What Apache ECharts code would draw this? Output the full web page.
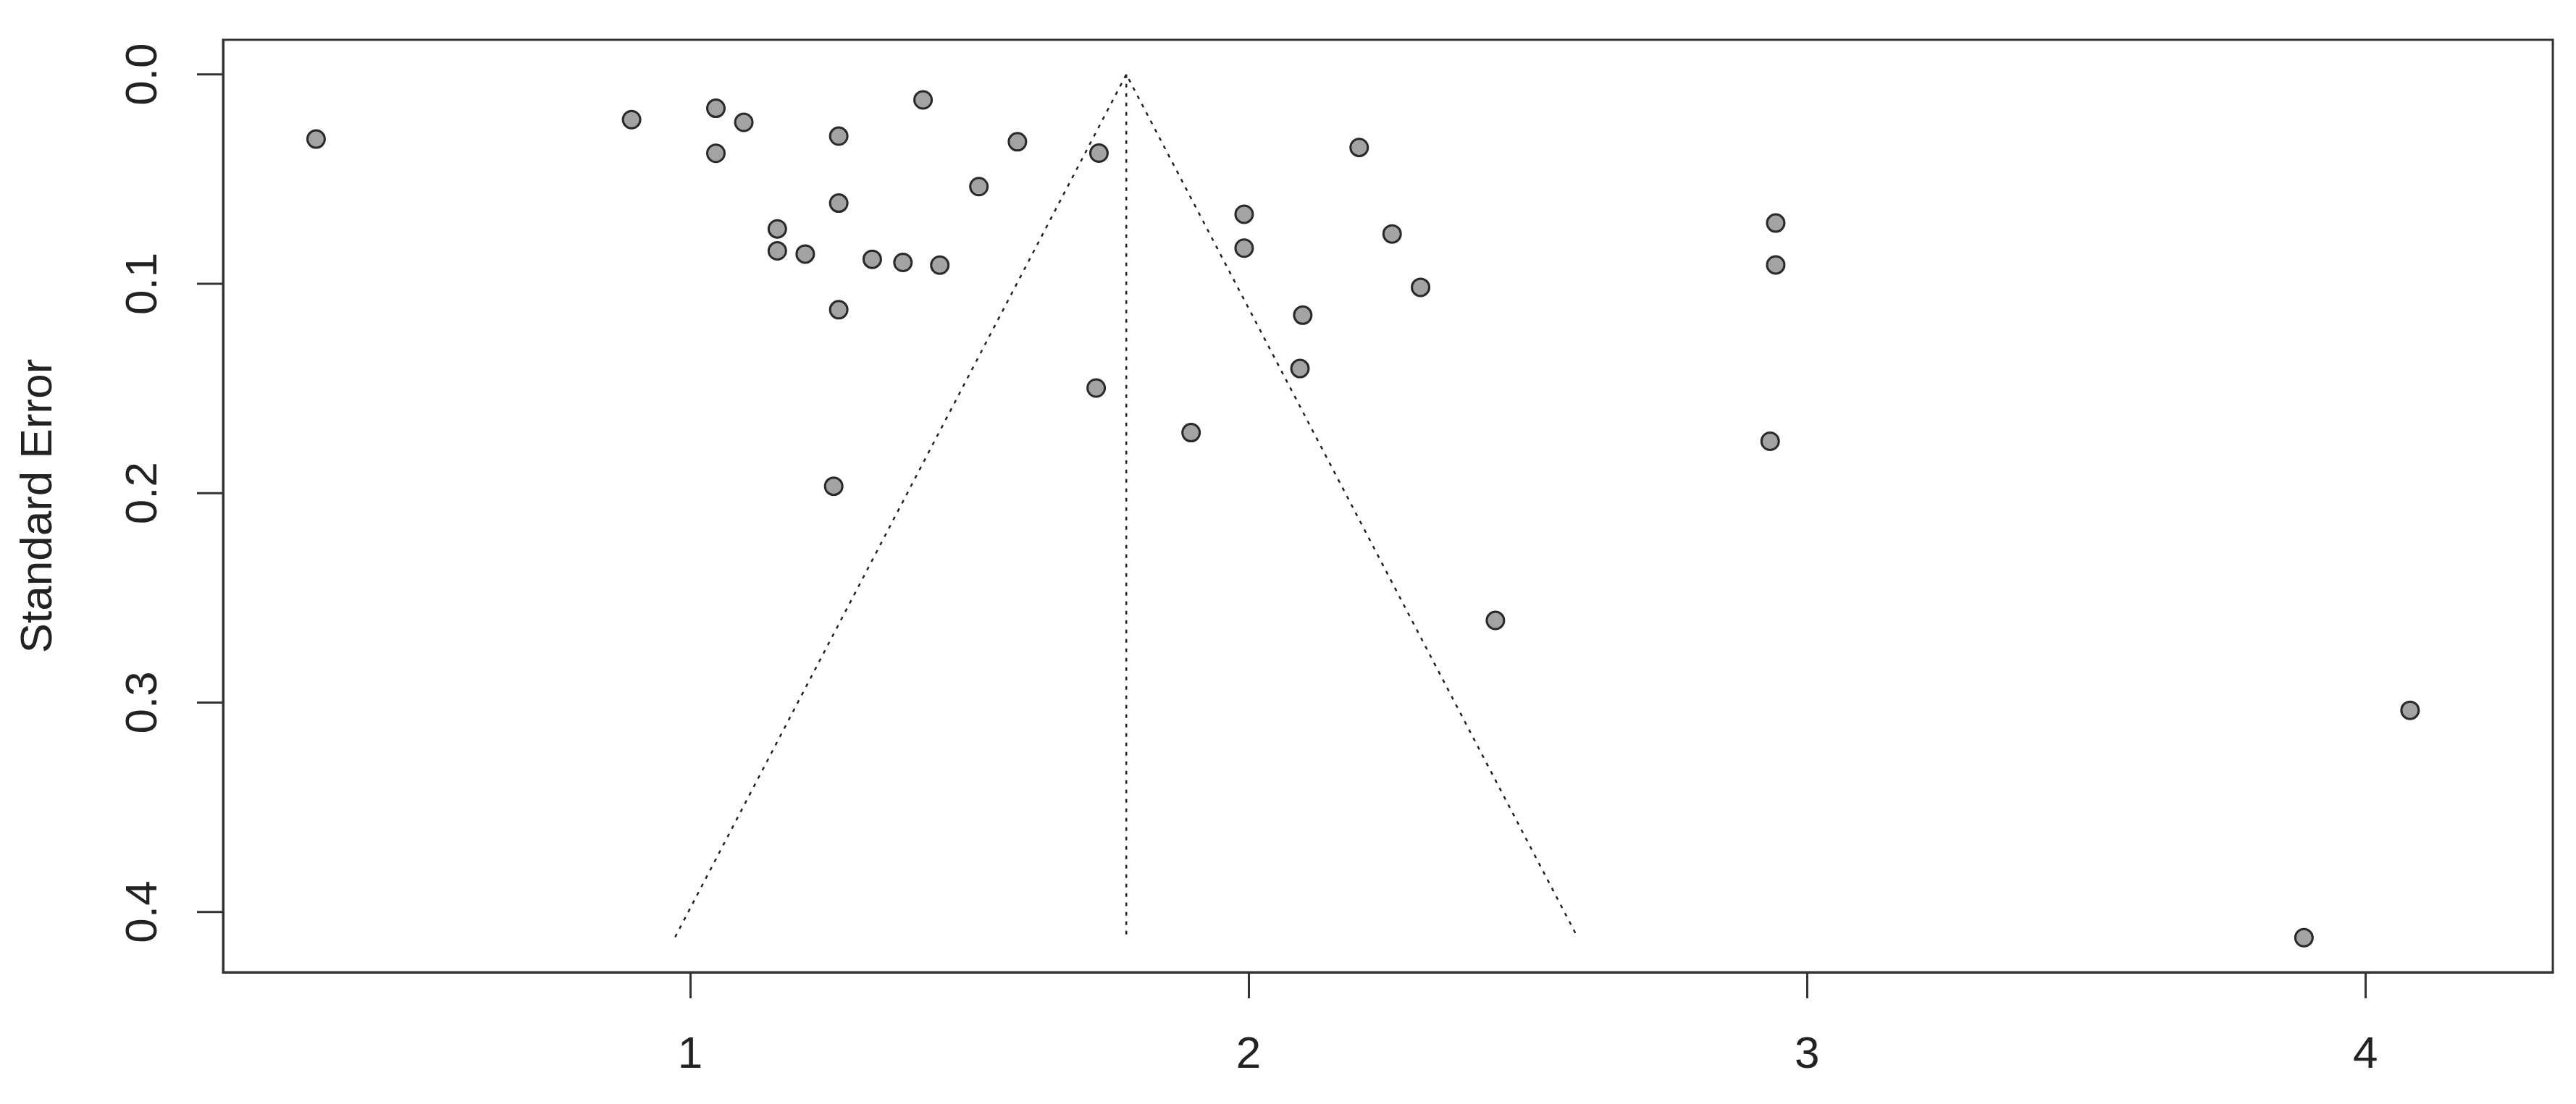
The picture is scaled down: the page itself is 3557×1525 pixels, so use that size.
<!DOCTYPE html>
<html>
<head>
<meta charset="utf-8">
<script src="https://cdn.jsdelivr.net/npm/echarts@6/dist/echarts.min.js"></script>
<style>
html,body{margin:0;padding:0;background:#fff;}
#chart{width:3557px;height:1525px;}
</style>
</head>
<body>
<div id="chart"></div>
<script>
// Study effect sizes (x) and standard errors (y)
const effectSizes = [0.330, 0.895, 1.046, 1.096, 1.046, 1.266, 1.417, 1.586, 1.732, 1.517,
  1.266, 1.156, 1.156, 1.206, 1.326, 1.381, 1.447, 1.266, 1.727, 1.257,
  1.897, 1.992, 1.992, 2.198, 2.257, 2.308, 2.097, 2.092, 2.442, 2.944,
  2.944, 2.934, 4.080, 3.890];
const standardErrors = [0.0309, 0.0216, 0.0162, 0.0229, 0.0377, 0.0295, 0.0122, 0.0322, 0.0376, 0.0536,
  0.0615, 0.0738, 0.0843, 0.0858, 0.0883, 0.0898, 0.0911, 0.1124, 0.1498, 0.1967,
  0.1711, 0.0668, 0.0830, 0.0349, 0.0762, 0.1017, 0.1150, 0.1405, 0.2608, 0.0710,
  0.0910, 0.1752, 0.3037, 0.4123];

// Funnel outline (pseudo confidence region) and centre line
const funnelX = [0.973, 1.781, 2.589];
const funnelY = [0.412, 0.0, 0.412];
const centreX = [1.781, 1.781];
const centreY = [0.0, 0.412];

// Axis ranges and ticks
const xRange = [0.1634, 4.3357];
const yRange = [-0.0165, 0.4288];
const xTicks = [1, 2, 3, 4];
const yTicks = [0, 0.1, 0.2, 0.3, 0.4];
const yAxisTitle = 'Standard Error';

const FONT = '"Liberation Sans", Arial, Helvetica, sans-serif';
const INK = '#222';
const TICK_LEN = 36;

const chart = echarts.init(document.getElementById('chart'));

const pts = effectSizes.map((x, i) => [x, standardErrors[i]]);
const funnel = funnelX.map((x, i) => [x, funnelY[i]]);
const centre = centreX.map((x, i) => [x, centreY[i]]);
const yTickData = yTicks.map(v => [xRange[0], v]);

chart.setOption({
  animation: false,
  backgroundColor: '#fff',
  grid: {
    left: 308, top: 55, right: 32, bottom: 182,
    show: true, borderColor: '#333', borderWidth: 3
  },
  xAxis: {
    type: 'value', position: 'bottom',
    min: xRange[0], max: xRange[1],
    splitLine: {show: false},
    axisLine: {show: true, onZero: false, lineStyle: {color: '#333', width: 3}},
    axisTick: {show: true, inside: false, length: TICK_LEN, customValues: xTicks, lineStyle: {color: '#333', width: 3}},
    axisLabel: {show: true, customValues: xTicks, margin: 84, fontSize: 62, fontFamily: FONT, color: INK}
  },
  yAxis: {
    type: 'value', position: 'left', inverse: true,
    min: yRange[0], max: yRange[1],
    splitLine: {show: false},
    axisLine: {show: true, onZero: false, lineStyle: {color: '#333', width: 3}},
    axisTick: {show: false},
    axisLabel: {
      show: true, customValues: yTicks, margin: 78, rotate: 90,
      fontSize: 62, fontFamily: FONT, color: INK,
      formatter: v => Number(v).toFixed(1)
    },
    name: yAxisTitle, nameLocation: 'middle', nameRotate: 90, nameGap: 223,
    nameTextStyle: {fontSize: 62, fontFamily: FONT, color: INK}
  },
  series: [
    {
      // y-axis tick marks, positioned through the axis scale
      type: 'custom', data: yTickData, clip: false, silent: true, z: 5,
      renderItem: (params, api) => {
        const p = api.coord([api.value(0), api.value(1)]);
        return {
          type: 'line',
          shape: {x1: p[0] - TICK_LEN, y1: p[1], x2: p[0], y2: p[1]},
          style: {stroke: '#333', lineWidth: 3}
        };
      }
    },
    {
      type: 'line', data: funnel, symbol: 'none', silent: true,
      lineStyle: {color: '#222', width: 2.5, type: [5, 8]}, z: 1
    },
    {
      type: 'line', data: centre, symbol: 'none', silent: true,
      lineStyle: {color: '#222', width: 2.5, type: [5, 8]}, z: 1
    },
    {
      type: 'scatter', data: pts, symbol: 'circle', symbolSize: 24,
      itemStyle: {color: '#a3a3a3', borderColor: '#2a2a2a', borderWidth: 3, opacity: 1},
      z: 3
    }
  ]
});
</script>
</body>
</html>
